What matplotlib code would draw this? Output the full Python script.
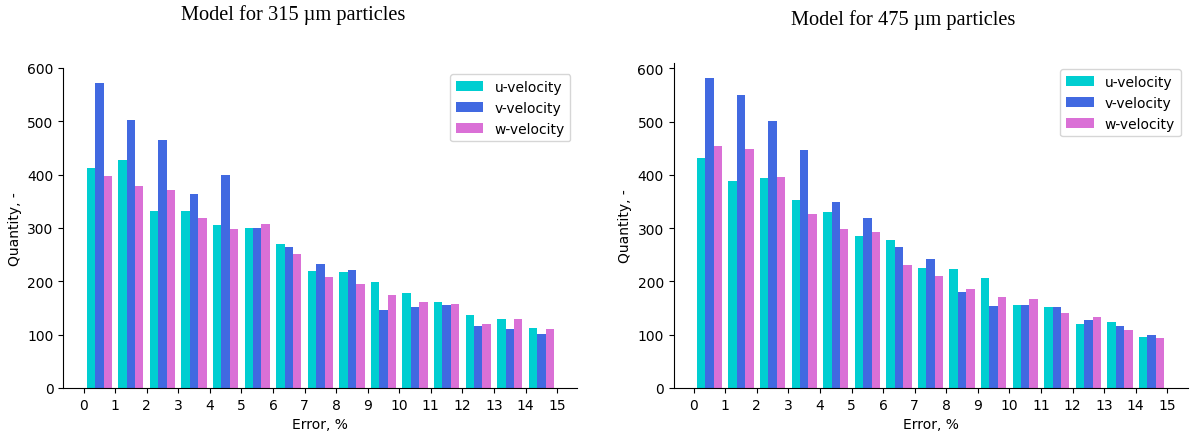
import numpy as np
import matplotlib
matplotlib.use("Agg")
import matplotlib.pyplot as plt

# Error bins (%)
bin_edges = list(range(0, 16))
xticks = list(range(0, 16))
series_labels = ["u-velocity", "v-velocity", "w-velocity"]
series_colors = ["darkturquoise", "royalblue", "orchid"]

# Model for 315 um particles
u_315 = [412, 427, 332, 332, 306, 300, 270, 219, 218, 198, 178, 162, 137, 129, 113]
v_315 = [572, 503, 465, 364, 400, 300, 265, 232, 221, 147, 152, 156, 117, 111, 101]
w_315 = [397, 378, 371, 319, 298, 307, 252, 208, 194, 175, 162, 158, 120, 129, 110]

# Model for 475 um particles
u_475 = [431, 389, 394, 353, 330, 285, 278, 226, 224, 207, 156, 152, 121, 124, 96]
v_475 = [582, 550, 501, 446, 349, 320, 264, 242, 180, 154, 156, 152, 128, 117, 99]
w_475 = [454, 448, 396, 326, 299, 292, 231, 210, 186, 171, 168, 141, 134, 108, 93]

titles = ["Model for 315 \u00b5m particles", "Model for 475 \u00b5m particles"]

fig = plt.figure(figsize=(11.92, 4.39), dpi=100)
ax1 = fig.add_axes([63.3 / 1192, 50 / 439, 514 / 1192, 320.5 / 439])
ax2 = fig.add_axes([673.5 / 1192, 50 / 439, 514 / 1192, 325.5 / 439])

centers = [(a + b) / 2 for a, b in zip(bin_edges[:-1], bin_edges[1:])]

panels = [
    (ax1, [u_315, v_315, w_315]),
    (ax2, [u_475, v_475, w_475]),
]

for ax, vals in panels:
    ax.hist([centers] * 3, bins=bin_edges, weights=vals,
            color=series_colors, label=series_labels)
    ax.set_xticks(xticks)
    ax.tick_params(labelsize=10)
    ax.set_xlabel("Error, %", fontsize=10)
    ax.set_ylabel("Quantity, -", fontsize=10)
    ax.spines["top"].set_visible(False)
    ax.spines["right"].set_visible(False)
    ax.legend(loc="upper right", fontsize=10)

fig.text(293 / 1192, 1 - 20 / 439, titles[0], ha="center", va="baseline",
         family="Liberation Serif", fontsize=14.7)
fig.text(903 / 1192, 1 - 24.5 / 439, titles[1], ha="center", va="baseline",
         family="Liberation Serif", fontsize=14.7)

fig.savefig("out.png", dpi=100)
